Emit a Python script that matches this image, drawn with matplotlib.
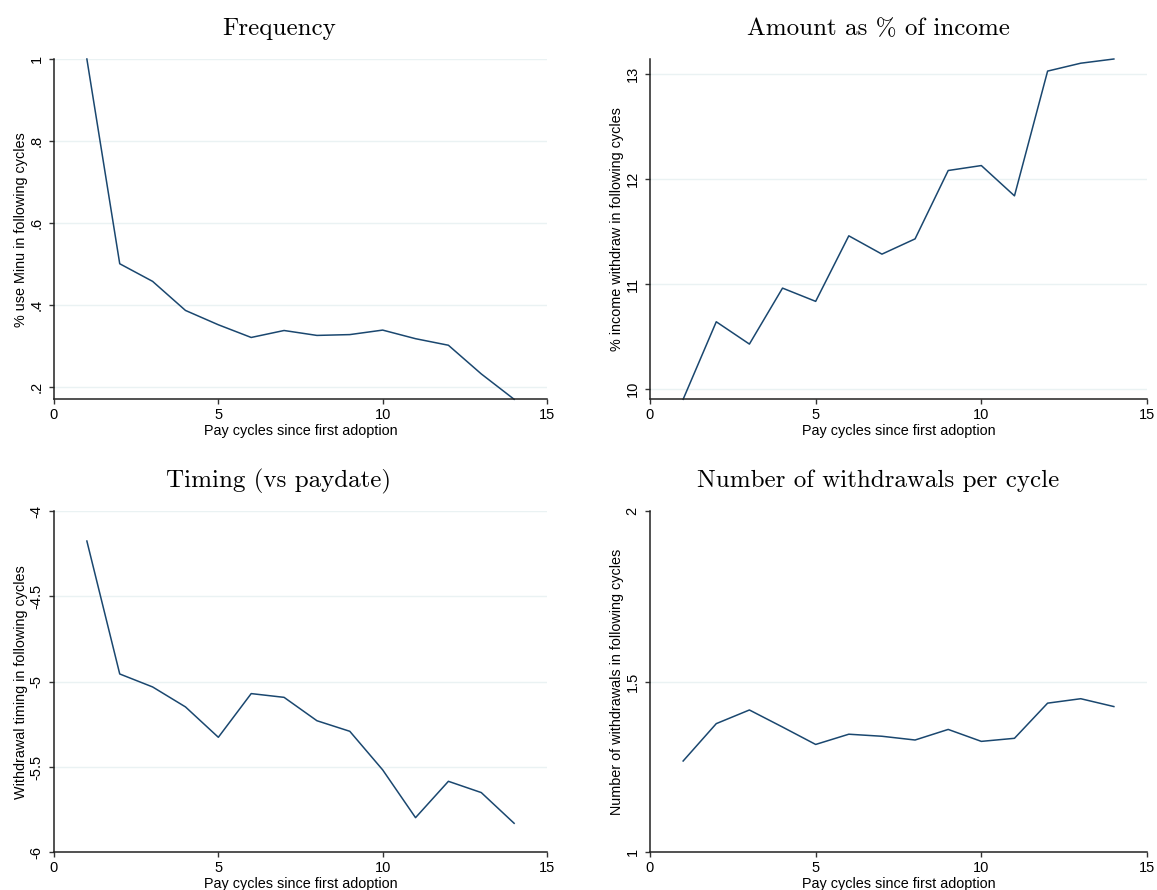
import matplotlib
matplotlib.use("Agg")
from matplotlib import pyplot as plt
import numpy as np

# pay cycles since first adoption
cycles = np.arange(1, 15)

freq = [1.0, 0.500, 0.457, 0.386, 0.351, 0.320, 0.337, 0.325, 0.327, 0.338,
        0.317, 0.301, 0.231, 0.169]
amount = [9.905, 10.642, 10.43, 10.962, 10.836, 11.459, 11.285, 11.43, 12.08,
          12.127, 11.839, 13.025, 13.10, 13.14]
timing = [-4.176, -4.955, -5.031, -5.148, -5.326, -5.070, -5.092, -5.229,
          -5.291, -5.517, -5.797, -5.584, -5.650, -5.830]
n_withdrawals = [1.2675, 1.377, 1.417, 1.367, 1.316, 1.346, 1.340, 1.329,
                 1.360, 1.325, 1.334, 1.437, 1.450, 1.427]

titles = ["Frequency", "Amount as % of income",
          "Timing (vs paydate)", "Number of withdrawals per cycle"]
ylabels = ["% use Minu in following cycles",
           "% income withdraw in following cycles",
           "Withdrawal timing in following cycles",
           "Number of withdrawals in following cycles"]
xticks = [0, 5, 10, 15]

freq_ticks = [0.2, 0.4, 0.6, 0.8, 1.0]
freq_ticklabels = [".2", ".4", ".6", ".8", "1"]
amount_ticks = [10, 11, 12, 13]
amount_ticklabels = ["10", "11", "12", "13"]
timing_ticks = [-6, -5.5, -5, -4.5, -4]
timing_ticklabels = ["-6", "-5.5", "-5", "-4.5", "-4"]
nw_ticks = [1, 1.5, 2]
nw_ticklabels = ["1", "1.5", "2"]

plt.rcParams['font.family'] = ['Liberation Sans', 'DejaVu Sans']

W, H = 1157, 890
fig = plt.figure(figsize=(W / 100, H / 100), dpi=100, facecolor='w')

def px_axes(left, top, right, bottom):
    return fig.add_axes([left / W, 1 - bottom / H, (right - left) / W, (bottom - top) / H])

navy = '#1a476f'
grid_col = '#eaf2f3'

panels = [
    (px_axes(54, 59, 547, 399.3), freq, (min(freq), max(freq)),
     freq_ticks, freq_ticklabels, [0.2, 0.4, 0.6, 0.8, 1.0]),
    (px_axes(650, 59, 1147, 399.3), amount, (min(amount), max(amount)),
     amount_ticks, amount_ticklabels, [10, 11, 12, 13]),
    (px_axes(54, 511, 547, 852.3), timing, (-6, -4),
     timing_ticks, timing_ticklabels, [-5.5, -5, -4.5, -4]),
    (px_axes(650, 511, 1147, 852.3), n_withdrawals, (1, 2),
     nw_ticks, nw_ticklabels, [1.5]),
]

for i, (ax, vals, ylim, yt, ytl, grid_at) in enumerate(panels):
    for g in grid_at:
        ax.axhline(g, color=grid_col, lw=1.0, zorder=0)
    ax.plot(cycles, vals, color=navy, lw=1.1, clip_on=False)
    ax.set_xlim(0, 15)
    ax.set_ylim(*ylim)
    ax.set_xticks(xticks)
    ax.set_yticks(yt)
    ax.set_yticklabels(ytl, rotation=90, va='center')
    ax.tick_params(axis='both', labelsize=10.5, length=3.5, width=1.0, color='#333333')
    ax.tick_params(axis='x', pad=3)
    ax.tick_params(axis='y', pad=4)
    for side in ['top', 'right']:
        ax.spines[side].set_visible(False)
    for side in ['left', 'bottom']:
        ax.spines[side].set_linewidth(1.1)
        ax.spines[side].set_color('#222222')
    ax.set_xlabel("Pay cycles since first adoption", fontsize=10.4, labelpad=1)
    ax.set_ylabel(ylabels[i], fontsize=10.4, labelpad=1)

# panel titles in Computer Modern
title_pos = [(279, 35), (878, 35), (279, 487), (878, 487)]
for t, (x, y) in zip(titles, title_pos):
    fig.text(x / W, 1 - y / H, t, ha='center', va='baseline',
             fontsize=18, family=['cmr10', 'DejaVu Serif'])

fig.savefig("out.png", dpi=100, facecolor='w')
